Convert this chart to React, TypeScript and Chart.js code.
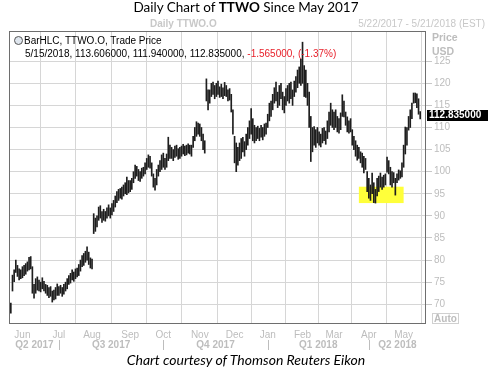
import React, { useEffect, useRef } from "react";
import { Chart, registerables } from "chart.js";
Chart.register(...registerables);

// Daily HLC bars, 5/22/2017 .. 5/15/2018 (trading-day index)
const LOWS = [
  68.0, 73.0, 75.1, 77.2, 76.3, 75.5, 75.8,
  76.0, 76.5, 76.8, 77.5, 77.8, 78.0, 72.5, 71.4, 72.5, 73.2, 73.0, 72.8, 73.5, 73.0, 72.5, 72.0, 71.5, 71.8, 70.5, 71.0, 71.2, 72.0,
  72.0, 72.5, 71.8, 72.3, 73.0, 73.5, 74.5, 74.8, 75.5, 75.2, 75.8, 76.2, 76.5, 77.5, 78.5, 78.8, 79.5, 80.0, 79.0, 78.2,
  78.0, 86.0, 86.5, 87.5, 89.0, 89.5, 88.5, 89.0, 88.8, 89.5, 90.0, 89.5, 90.2, 91.0, 92.0, 93.0, 93.5, 94.0, 93.8, 94.5, 95.0, 94.8, 95.2,
  95.5, 96.0, 97.5, 98.5, 99.0, 98.0, 97.8, 98.5, 99.0, 99.5, 100.5, 101.0, 100.8, 99.0, 96.5, 95.8, 97.0, 99.0, 100.0, 100.5,
  101.0, 100.5, 101.0, 102.5, 103.0, 103.0, 102.5, 103.2, 103.5, 102.8, 103.0, 103.5, 104.0, 103.6, 103.8, 104.2, 104.0, 103.5, 105.5, 107.0, 108.0, 108.5,
  108.0, 107.0, 105.0, 104.2, 116.0, 114.0, 115.5, 117.0, 117.5, 116.5, 117.0, 117.5, 116.8, 117.0, 116.5, 117.2, 117.0, 116.0, 116.2, 113.5, 108.5,
  102.0, 100.0, 101.5, 102.5, 103.0, 104.5, 103.5, 105.0, 106.0, 107.5, 108.5, 107.0, 106.5, 107.0, 107.5, 107.0, 107.8, 107.2, 108.0, 108.5,
  110.0, 111.5, 112.5, 114.0, 115.5, 116.0, 114.5, 115.0, 116.5, 114.0, 113.3, 115.0, 116.0, 115.5, 116.5, 115.0, 117.0, 118.0, 119.0, 120.0, 119.5,
  120.0, 117.0, 116.8, 115.0, 110.0, 102.3, 104.5, 106.0, 105.5, 106.5, 106.0, 105.6, 106.5, 107.0, 106.2, 107.5, 109.0, 110.5, 110.0,
  109.5, 110.0, 109.0, 108.7, 109.5, 112.5, 112.4, 110.5, 109.0, 108.7, 109.0, 106.0, 105.0, 103.5, 102.6, 103.0, 102.0, 101.0, 99.7, 100.5, 95.5,
  94.0, 93.5, 95.0, 93.0, 92.9, 94.5, 95.5, 96.5, 96.0, 96.5, 97.0, 99.9, 99.5, 97.0, 96.5, 97.5, 94.7, 97.5, 98.1, 98.5, 98.8,
  101.0, 104.0, 106.0, 109.4, 110.0, 112.0, 115.5, 115.6, 114.5, 113.0, 111.94,
];
const HIGHS = [
  70.3, 76.6, 77.8, 80.0, 78.8, 78.0, 77.8,
  78.5, 78.8, 79.2, 79.6, 80.6, 80.8, 78.5, 74.5, 75.8, 76.2, 75.5, 75.0, 76.0, 75.2, 74.5, 74.3, 73.8, 74.0, 73.0, 73.2, 73.8, 74.6,
  74.0, 74.3, 73.8, 74.5, 75.0, 75.8, 76.5, 77.0, 77.8, 77.3, 78.0, 78.2, 79.0, 80.0, 81.0, 81.5, 82.0, 83.0, 81.8, 80.5,
  80.2, 90.5, 89.5, 90.0, 92.0, 92.3, 91.0, 91.5, 91.0, 91.8, 92.5, 91.8, 92.8, 93.5, 94.5, 95.5, 96.0, 96.2, 96.5, 97.0, 97.5, 98.8, 98.0,
  98.0, 98.5, 100.0, 101.5, 101.2, 100.5, 100.0, 100.8, 101.0, 102.0, 103.0, 103.8, 103.5, 102.0, 99.5, 98.5, 100.5, 101.5, 102.5, 103.8,
  104.2, 103.0, 104.0, 107.8, 106.0, 105.5, 105.0, 105.8, 106.0, 105.2, 105.5, 105.8, 106.2, 105.8, 106.0, 106.3, 106.0, 106.0, 108.0, 110.0, 111.3, 111.0,
  110.8, 110.0, 108.5, 107.0, 121.0, 118.5, 118.5, 120.0, 120.3, 119.5, 120.0, 120.5, 119.2, 119.8, 119.0, 120.2, 119.5, 118.5, 118.8, 117.5, 114.0,
  108.0, 106.5, 105.5, 106.5, 107.5, 107.8, 106.8, 108.5, 110.0, 111.5, 114.3, 112.0, 110.5, 110.0, 110.3, 109.8, 110.5, 110.0, 110.8, 111.0,
  113.0, 115.5, 116.0, 117.5, 119.0, 120.3, 118.0, 119.5, 120.0, 118.0, 117.0, 118.8, 119.5, 120.0, 120.3, 118.5, 120.5, 121.5, 123.0, 123.7, 125.5,
  129.3, 124.0, 123.0, 120.0, 118.0, 112.5, 110.0, 110.2, 109.5, 110.0, 109.0, 108.5, 109.8, 110.0, 109.2, 111.5, 113.5, 115.5, 114.0,
  113.5, 114.0, 112.5, 112.0, 113.3, 117.4, 116.0, 113.5, 112.4, 111.5, 112.0, 109.5, 108.0, 107.0, 106.0, 105.5, 104.5, 104.2, 103.5, 103.0, 100.0,
  98.5, 97.0, 99.7, 97.5, 96.0, 98.5, 99.0, 99.7, 98.8, 99.2, 99.5, 103.3, 102.5, 101.0, 100.0, 99.8, 98.5, 99.5, 100.4, 100.2, 102.0,
  106.0, 110.1, 110.0, 112.5, 114.0, 115.5, 117.8, 117.8, 117.6, 116.5, 113.606,
];

const LAST_DATE = "5/15/2018";
const LAST_HIGH = "113.606000";
const LAST_LOW = "111.940000";
const LAST_CLOSE = 112.835;
const CHANGE = "-1.565000";
const CHANGE_PCT = "(-1.37%)";

const MONTH_LABELS = ["Jun", "Jul", "Aug", "Sep", "Oct", "Nov", "Dec", "Jan", "Feb", "Mar", "Apr", "May"];
const MONTH_IDX = [7, 29, 49, 72, 92, 114, 135, 155, 176, 195, 216, 237];
const QUARTER_LABELS = ["Q2 2017", "Q3 2017", "Q4 2017", "Q1 2018", "Q2 2018"];
const QUARTER_BOUNDS = [29, 92, 155, 216];
const Y_TICKS = [70, 75, 80, 85, 90, 95, 100, 105, 110, 115, 120, 125];
const HIGHLIGHT_X = [210, 237];
const HIGHLIGHT_Y = [92.9, 96.6];

const GRAY = "#bdbdbd";
const FONT = "'Liberation Sans', Arial, sans-serif";

const overlayPlugin = {
  id: "overlay",
  beforeDatasetsDraw(chart: any) {
    const { ctx, scales } = chart;
    const x = scales.x, y = scales.y;
    const x0 = x.getPixelForValue(HIGHLIGHT_X[0]);
    const x1 = x.getPixelForValue(HIGHLIGHT_X[1]);
    const y0 = y.getPixelForValue(HIGHLIGHT_Y[1]);
    const y1 = y.getPixelForValue(HIGHLIGHT_Y[0]);
    ctx.save();
    ctx.fillStyle = "#ffff3a";
    ctx.fillRect(x0, y0, x1 - x0, y1 - y0);
    ctx.restore();
  },
  afterDraw(chart: any) {
    const { ctx, chartArea: a, scales } = chart;
    const x = scales.x, y = scales.y;
    ctx.save();
    // plot frame
    ctx.strokeStyle = "#6e6e6e";
    ctx.lineWidth = 1;
    ctx.strokeRect(Math.round(a.left) - 0.5, Math.round(a.top) + 0.5, Math.round(a.right - a.left), Math.round(a.bottom - a.top) - 1);
    // quarter labels
    const edges = [a.left, ...QUARTER_BOUNDS.map((v) => x.getPixelForValue(v)), a.right];
    ctx.fillStyle = GRAY;
    ctx.font = `bold 10px ${FONT}`;
    ctx.textAlign = "center";
    ctx.textBaseline = "middle";
    QUARTER_LABELS.forEach((q, i) => {
      ctx.fillText(q, (edges[i] + edges[i + 1]) / 2, 345);
    });
    ctx.strokeStyle = GRAY;
    QUARTER_BOUNDS.forEach((v) => {
      const px = Math.round(x.getPixelForValue(v)) + 0.5;
      ctx.beginPath();
      ctx.moveTo(px, 340);
      ctx.lineTo(px, 350);
      ctx.stroke();
    });
    // last price label
    const py = y.getPixelForValue(LAST_CLOSE);
    ctx.fillStyle = "#000";
    ctx.fillRect(a.right + 1, Math.round(py) - 5, 61, 11);
    ctx.fillStyle = "#fff";
    ctx.textAlign = "left";
    ctx.font = `bold 10px ${FONT}`;
    ctx.fillText(LAST_CLOSE.toFixed(6), a.right + 3, Math.round(py) + 0.5);
    ctx.restore();
  },
};

export default function App() {
  const ref = useRef<HTMLCanvasElement>(null);
  useEffect(() => {
    const data = LOWS.map((l, i) => ({ x: i, y: [l, HIGHS[i]] }));
    const chart = new Chart(ref.current as HTMLCanvasElement, {
      type: "bar",
      data: {
        datasets: [
          {
            data: data as any,
            backgroundColor: "#1e1e1e",
            borderWidth: 0,
            barThickness: 1,
          } as any,
        ],
      },
      options: {
        animation: false,
        responsive: false,
        events: [],
        layout: { padding: { left: 10, top: 31, right: 0, bottom: 0 } },
        plugins: { legend: { display: false }, tooltip: { enabled: false } },
        scales: {
          x: {
            type: "linear",
            min: -0.5,
            max: 250.5,
            offset: false,
            border: { display: false },
            grid: { color: "#d6d6d6", drawTicks: false },
            afterBuildTicks: (s: any) => {
              s.ticks = MONTH_IDX.map((v) => ({ value: v }));
            },
            afterFit: (s: any) => {
              s.height = 48;
            },
            ticks: {
              autoSkip: false,
              maxRotation: 0,
              padding: 5,
              color: GRAY,
              font: { family: FONT, size: 10 },
              callback: (_v: any, i: number) => MONTH_LABELS[i],
            },
          },
          y: {
            type: "linear",
            position: "right",
            min: 65.54,
            max: 131.83,
            border: { display: false },
            grid: { color: "#d6d6d6", tickLength: 6, tickColor: "#c8c8c8" },
            afterBuildTicks: (s: any) => {
              s.ticks = Y_TICKS.map((v) => ({ value: v }));
            },
            afterFit: (s: any) => {
              s.width = 66;
            },
            ticks: {
              autoSkip: false,
              padding: 2,
              color: GRAY,
              font: { family: FONT, size: 10 },
              callback: (v: any) => String(v),
            },
          },
        },
      },
      plugins: [overlayPlugin],
    });
    return () => chart.destroy();
  }, []);

  const abs = (s: React.CSSProperties): React.CSSProperties => ({
    position: "absolute",
    whiteSpace: "nowrap",
    margin: 0,
    ...s,
  });

  return (
    <div style={{ position: "fixed", left: 0, top: 0, width: 492, height: 372, background: "#fff", overflow: "hidden" }}>
      <canvas ref={ref} width={492} height={372} style={{ position: "absolute", left: 0, top: 0 }} />
      <div style={abs({ left: 0, top: -2, width: 492, textAlign: "center", font: "13.5px Lato, sans-serif", lineHeight: "18px", color: "#000" })}>
        Daily Chart of <b>TTWO</b> Since May 2017
      </div>
      <div style={abs({ left: 150, top: 17, font: `bold 10px ${FONT}`, lineHeight: "13px", color: "#c8c8c8" })}>Daily TTWO.O</div>
      <div style={abs({ right: 7, top: 17, font: `10px ${FONT}`, lineHeight: "13px", color: "#c8c8c8" })}>5/22/2017 - 5/21/2018 (EST)</div>
      <div style={abs({ left: 14, top: 36, width: 7, height: 7, borderRadius: "50%", border: "1px solid #555", background: "#dfe6ee" })} />
      <div style={abs({ left: 24, top: 34, font: `10px ${FONT}`, lineHeight: "13px", color: "#000" })}>BarHLC, TTWO.O, Trade Price</div>
      <div style={abs({ left: 25, top: 47, font: `10px ${FONT}`, lineHeight: "13px", color: "#000" })}>
        {LAST_DATE}, {LAST_HIGH}, {LAST_LOW}, {LAST_CLOSE.toFixed(6)},{" "}
        <span style={{ color: "#e8202a" }}>{CHANGE}, {CHANGE_PCT}</span>
      </div>
      <div style={abs({ left: 432, top: 31, font: `bold 10.5px ${FONT}`, lineHeight: "13px", color: GRAY })}>Price</div>
      <div style={abs({ left: 432, top: 45, font: `bold 10.5px ${FONT}`, lineHeight: "13px", color: GRAY })}>USD</div>
      <div style={abs({ left: 432, top: 313, width: 25, height: 9, border: "1px solid #d0d0d0", font: `bold 10px ${FONT}`, lineHeight: "9px", color: GRAY, textAlign: "center" })}>Auto</div>
      <div style={abs({ left: 0, top: 351, width: 492, textAlign: "center", font: "italic 14px Lato, sans-serif", lineHeight: "18px", color: "#000" })}>
        Chart courtesy of Thomson Reuters Eikon
      </div>
    </div>
  );
}
